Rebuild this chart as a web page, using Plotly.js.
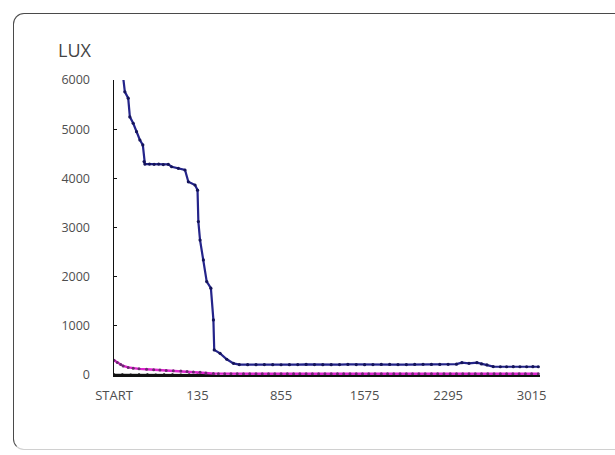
<!DOCTYPE html>
<html>
<head>
<meta charset="utf-8">
<script src="https://cdn.plot.ly/plotly-3.0.1.min.js"></script>
<style>
  html, body { margin: 0; padding: 0; background: #ffffff; }
  #wrap { position: relative; width: 615px; height: 455px; overflow: hidden; background: #fff; }
  #frame { position: absolute; left: 13px; top: 13px; width: 640px; height: 437px;
           border: 1.5px solid #4a4a4a; border-bottom-color: #d0d0d0; border-radius: 11px; box-sizing: border-box; }
  #chart { position: absolute; left: 0; top: 0; width: 615px; height: 455px; }
</style>
</head>
<body>
<div id="wrap">
  <div id="frame"></div>
  <div id="chart"></div>
</div>
<script>
// ---- data ----
const tickVals = [0, 20, 40, 60, 80, 100];
const tickText = ["START", "135", "855", "1575", "2295", "3015"];

const blueX = [2.2, 2.6, 3.4, 3.8, 4.6, 5.4, 6.2, 6.9, 7.2, 7.4, 8.5, 9.6, 10.7, 11.8, 13, 13.8, 15.4, 17, 17.8, 19.4, 20, 20.2, 20.6, 21.4, 22.2, 23.2, 23.8, 24, 25.4, 27, 28.6,
  30, 32, 34, 36, 38, 40, 42, 44, 46, 48, 50, 52, 54, 56, 58, 60, 62, 64, 66, 68, 70, 72, 74, 76, 78, 80, 82,
  83.3, 85, 86.9, 88, 89.3, 90.8, 92.5, 94, 95.6, 97.2, 98.8, 100.3, 101.6];
const blueY = [6050, 5760, 5630, 5250, 5120, 4950, 4780, 4680, 4340, 4290, 4290, 4285, 4290, 4280, 4285, 4236, 4203, 4170, 3930, 3864, 3760, 3120, 2745, 2340, 1900, 1765, 1120, 510, 441, 320, 237,
  212, 210, 210, 212, 210, 208, 210, 212, 215, 212, 210, 210, 212, 215, 212, 210, 212, 215, 215, 212, 212, 215, 218, 215, 215, 218, 220,
  250, 238, 250, 225, 205, 172, 168, 168, 170, 168, 168, 170, 168];

const pinkX = [0, 0.8, 1.6, 2.2, 3.4, 4.6, 6, 7.8, 9.5, 11, 12.5, 14.2, 16, 17.5, 19, 20.6, 22, 23.8,
  25, 26.5, 28, 29.5, 31, 32.5, 34, 35.5, 37, 38.5, 40, 41.5, 43, 44.5, 46, 47.5, 49, 50.5, 52, 53.5, 55, 56.5, 58, 59.5, 61, 62.5, 64, 65.5, 67, 68.5, 70, 71.5, 73, 74.5, 76, 77.5, 79, 80.5, 82, 83.5, 85, 86.5, 88, 89.5, 91, 92.5, 94, 95.5, 97, 98.5, 100, 101.6];
const pinkY = [300, 255, 215, 185, 155, 136, 125, 116, 108, 100, 93, 87, 80, 72, 63, 55, 40, 28,
  26, 26, 25, 26, 25, 26, 25, 25, 26, 25, 25, 26, 25, 25, 26, 25, 25, 26, 25, 26, 25, 25, 26, 25, 25, 26, 25, 25, 26, 25, 25, 26, 25, 25, 26, 25, 25, 26, 25, 25, 26, 25, 25, 26, 25, 25, 26, 25, 25, 26, 25, 25];

const blackX = [0, 2, 4, 6, 8, 10, 12, 14, 16, 18, 20, 22, 24];
const blackY = [8, 8, 7, 8, 8, 7, 8, 8, 7, 8, 8, 7, 6];

// ---- chart ----
const traces = [
  { x: blackX, y: blackY, mode: 'lines+markers', type: 'scatter',
    line: { color: '#111111', width: 1.5 }, marker: { color: '#111111', size: 2.5 }, hoverinfo: 'skip' },
  { x: pinkX, y: pinkY, mode: 'lines+markers', type: 'scatter',
    line: { color: '#e024d0', width: 2.4 }, marker: { color: '#6a2a70', size: 3 }, hoverinfo: 'skip' },
  { x: blueX, y: blueY, mode: 'lines+markers', type: 'scatter',
    line: { color: '#24248a', width: 2.2 }, marker: { color: '#14145a', size: 3.2 }, hoverinfo: 'skip' }
];

const layout = {
  width: 615, height: 455,
  margin: { l: 114, r: 75, t: 80, b: 80, pad: 0 },
  paper_bgcolor: 'rgba(0,0,0,0)', plot_bgcolor: 'rgba(0,0,0,0)',
  showlegend: false,
  font: { family: 'Open Sans, sans-serif', color: '#4e4e4e', size: 12 },
  xaxis: {
    range: [0, 102], tickvals: tickVals, ticktext: tickText,
    showgrid: false, zeroline: false, showline: true, linecolor: '#111111', linewidth: 1.5,
    ticks: '', ticklabelstandoff: 8, tickfont: { size: 13, color: '#4e4e4e' }, fixedrange: true
  },
  yaxis: {
    range: [0, 6000], tickvals: [0, 1000, 2000, 3000, 4000, 5000, 6000],
    showgrid: false, zeroline: false, showline: true, linecolor: '#111111', linewidth: 1.5,
    ticks: 'inside', ticklen: 3, tickcolor: '#111111', tickwidth: 1.2,
    ticklabelstandoff: 20, tickfont: { size: 12.5, color: '#4e4e4e' }, fixedrange: true
  },
  annotations: [{
    text: 'LUX', xref: 'paper', yref: 'paper', x: -0.0915, y: 1.1017,
    xanchor: 'center', yanchor: 'middle', showarrow: false,
    font: { size: 18, color: '#444444', family: 'Open Sans, sans-serif' }
  }]
};

Plotly.newPlot('chart', traces, layout, { displayModeBar: false, staticPlot: true });
</script>
</body>
</html>
